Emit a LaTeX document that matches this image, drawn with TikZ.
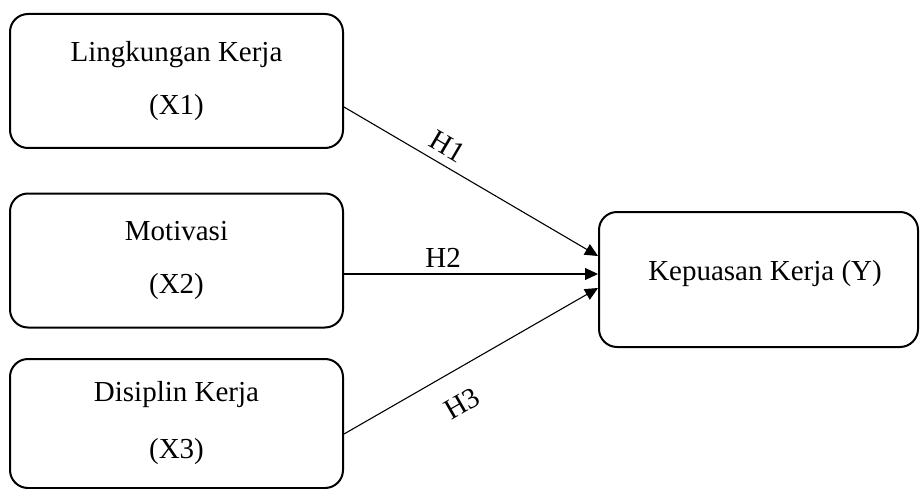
\documentclass[tikz,border=0pt]{standalone}
\usepackage{fontspec}
\setmainfont{Liberation Serif}
\usetikzlibrary{arrows.meta}

\begin{document}
\begin{tikzpicture}[x=1pt,y=-1pt,font=\fontsize{29}{53}\selectfont,
  varbox/.style={draw,line width=2pt,rounded corners=18pt,minimum width=333pt,minimum height=134pt,align=center,inner sep=0pt},
  hyp/.style={line width=1.1pt,-{Triangle[length=13pt,width=12pt]}},
  hlab/.style={inner sep=2pt,sloped}]
\useasboundingbox (0,0) rectangle (920,489);
\draw node[varbox] (x1) at (176.5,81) {Lingkungan Kerja\\(X1)};
\draw node[varbox] (x2) at (176.5,260.5) {Motivasi\\(X2)};
\draw node[varbox,minimum height=129pt] (x3) at (176.5,423.5) {Disiplin Kerja\\[4pt](X3)};
\draw node[varbox,minimum width=319pt,minimum height=135pt] (y) at (758.5,279.5) {\hspace*{13pt}\raisebox{19pt}{Kepuasan Kerja (Y)}};
\draw[hyp] ([yshift=-26pt]x1.east) -- node[hlab,pos=0.37,above=6pt] {H1} ([yshift=23.5pt]y.west);
\draw[hyp] ([yshift=-13.5pt]x2.east) -- node[hlab,pos=0.39,above=4pt] {H2} ([yshift=5.5pt]y.west);
\draw[hyp] ([yshift=-10.5pt]x3.east) -- node[hlab,pos=0.40,below=20pt] {H3} ([yshift=-8.5pt]y.west);
\end{tikzpicture}
\end{document}
